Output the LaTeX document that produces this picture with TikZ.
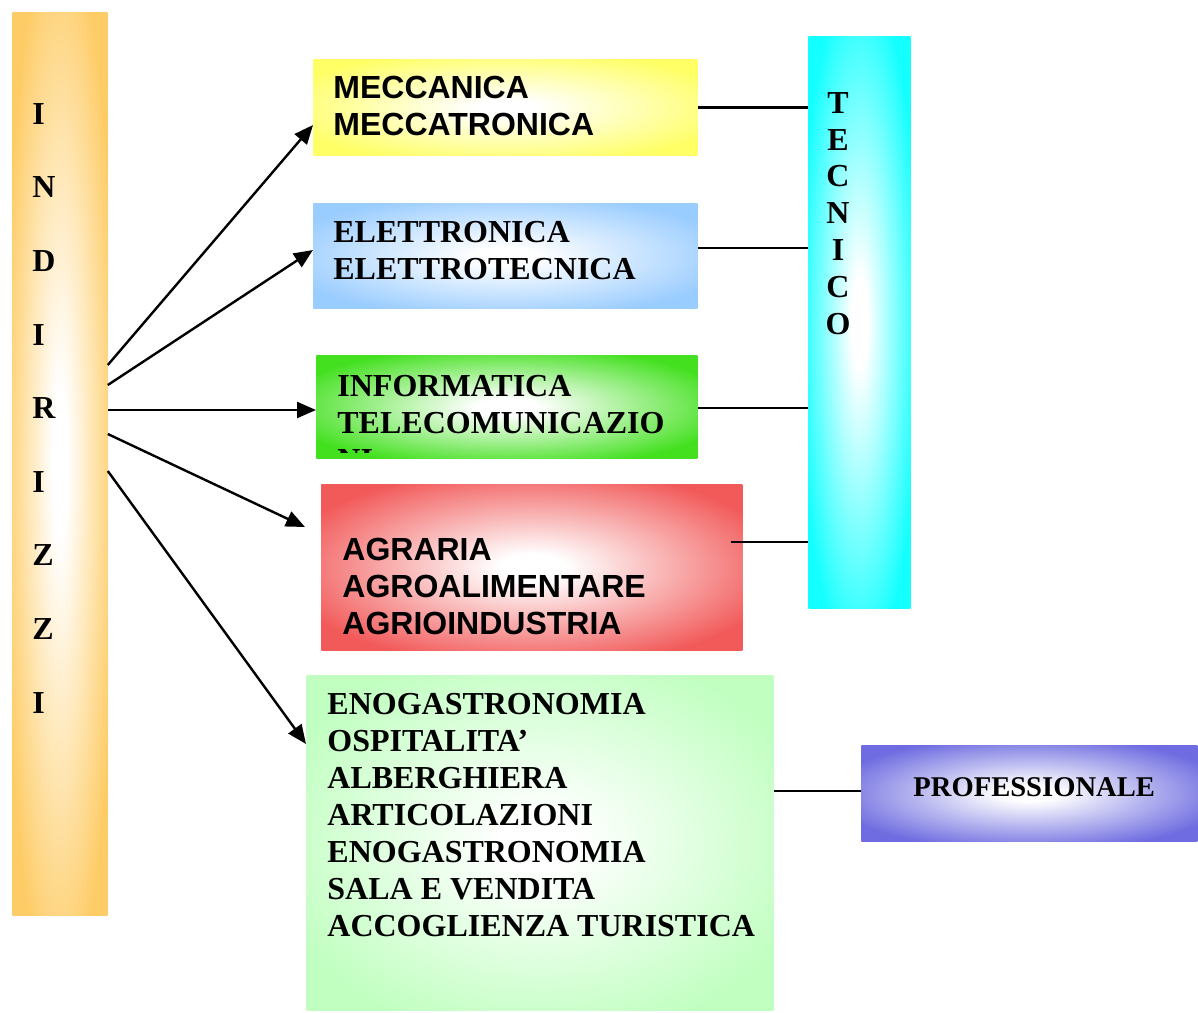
\documentclass[tikz,border=0pt]{standalone}
\usepackage{fontspec}
\setmainfont{Liberation Serif}
\newfontfamily\arialfont{Liberation Sans}
\usetikzlibrary{arrows.meta}

\definecolor{barorange}{RGB}{254,204,102}
\definecolor{meccyellow}{RGB}{255,255,102}
\definecolor{eletblue}{RGB}{153,204,255}
\definecolor{infogreen}{RGB}{66,224,30}
\definecolor{agrred}{RGB}{242,90,90}
\definecolor{enogreen}{RGB}{192,255,192}
\definecolor{teccyan}{RGB}{20,255,255}
\definecolor{profviolet}{RGB}{110,108,224}
\colorlet{glowout}{white}

\pgfdeclareradialshading[glowout]{glowshade}{\pgfpointorigin}{color(0bp)=(white);color(4bp)=(white);color(30bp)=(glowout);color(50bp)=(glowout)}

\tikzset{
	glowbox/.style={shade, shading=glowshade, /utils/exec={\colorlet{glowout}{#1}}, draw=none, inner sep=0pt, anchor=north west},
	seriftext/.style={font=\fontsize{16}{18.5}\selectfont\bfseries, inner sep=0pt, anchor=north west, align=left},
	sanstext/.style={font=\arialfont\fontsize{16}{18.5}\selectfont\bfseries, inner sep=0pt, anchor=north west, align=left},
	link/.style={line width=1.2pt},
	feed/.style={line width=1.2pt, -{Triangle[length=9.5pt,width=8pt]}}
}

\begin{document}
\begin{tikzpicture}[x=0.5pt,y=-0.5pt]
			%%%%% START %%%%%
			\useasboundingbox (0,0) rectangle (1198,1012);
			
			% boxes
			\node[glowbox=barorange, minimum width=47.5pt, minimum height=451.5pt] (bar) at (12,12) {};
			\node[glowbox=meccyellow, minimum width=192pt, minimum height=48pt] (mecc) at (313,59) {};
			\node[glowbox=eletblue, minimum width=192pt, minimum height=52.5pt] (elet) at (313,203) {};
			\node[glowbox=infogreen, minimum width=190.5pt, minimum height=51.5pt] (info) at (316,355) {};
			\node[glowbox=agrred, minimum width=210.5pt, minimum height=83pt] (agr) at (321,484) {};
			\node[glowbox=enogreen, minimum width=233.5pt, minimum height=167.5pt] (eno) at (306,675) {};
			\node[glowbox=teccyan, minimum width=51pt, minimum height=286pt] (tec) at (808,36) {};
			\node[glowbox=profviolet, minimum width=168pt, minimum height=48pt] (prof) at (861,745) {};
			
			% texts
			\node[seriftext, font=\fontsize{16}{36.8}\selectfont\bfseries] (bartxt) at (32,103) {I\\N\\D\\I\\R\\I\\Z\\Z\\I};
			\node[sanstext] (mecctxt) at (333,76) {MECCANICA\\MECCATRONICA};
			\node[seriftext] (elettxt) at (333,221) {ELETTRONICA\\ELETTROTECNICA};
			\begin{scope}
				\clip (316,355) rectangle (697,452);
				\node[seriftext] (infotxt) at (337,375) {INFORMATICA\\TELECOMUNICAZIO\\NI};
			\end{scope}
			\node[sanstext] (agrtxt) at (342,538) {AGRARIA\\AGROALIMENTARE\\AGRIOINDUSTRIA};
			\node[seriftext] (enotxt) at (327,693) {ENOGASTRONOMIA\\OSPITALITA’\\ALBERGHIERA\\ARTICOLAZIONI\\ENOGASTRONOMIA\\SALA E VENDITA\\ACCOGLIENZA TURISTICA};
			\node[seriftext, align=center, anchor=north, font=\fontsize{16}{18.4}\selectfont\bfseries] (tectxt) at (838,92) {T\\E\\C\\N\\I\\C\\O};
			\node[seriftext, font=\fontsize{14.3}{17}\selectfont\bfseries] (proftxt) at (913,777) {PROFESSIONALE};
			
			% arrows
			\coordinate (agrin) at (305,527);
			\draw[feed] (bar.east |- 0,365) -- (mecc.west |- 0,125);
			\draw[feed] (bar.east |- 0,385) -- (elet.west |- 0,250);
			\draw[feed] (bar.east |- 0,410) -- (info.west |- 0,410);
			\draw[feed] (bar.east |- 0,434) -- (agrin);
			\draw[feed] (bar.east |- 0,471) -- (eno.west |- 0,744);
			
			% links
			\coordinate (agrtap) at (731,542);
			\draw[link] (mecc.east) -- (mecc.east -| tec.west);
			\draw[link] (elet.east |- 0,248) -- (tec.west |- 0,248);
			\draw[link] (info.east |- 0,408) -- (tec.west |- 0,408);
			\draw[link] (agrtap) -- (agrtap -| tec.west);
			\draw[link] (eno.east |- 0,791) -- (prof.west |- 0,791);
			%%%%% END %%%%%
\end{tikzpicture}
\end{document}
